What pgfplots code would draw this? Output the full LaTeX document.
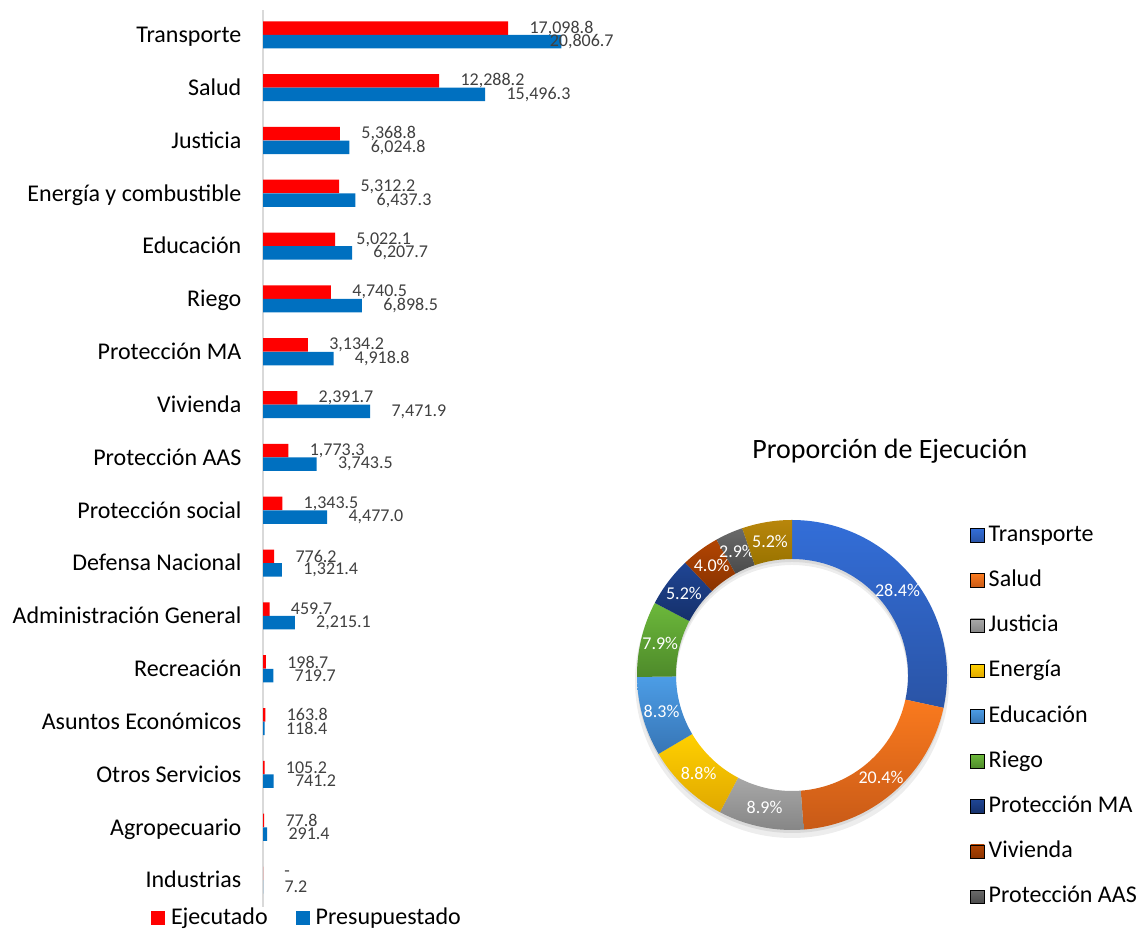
\documentclass[border=0pt]{standalone}
\usepackage{fontspec}
\setmainfont{Carlito}
\usepackage{pgfplots}
\usepackage{pgfplotstable}
\pgfplotsset{compat=1.18}

\definecolor{ejec}{HTML}{FF0000}
\definecolor{pres}{HTML}{0070C0}
\definecolor{axgray}{HTML}{D9D9D9}
\definecolor{labgray}{HTML}{404040}
% donut slices: top / bottom of the gradient
\definecolor{pt0}{HTML}{336ED8}\definecolor{pb0}{HTML}{2A54A6}
\definecolor{pt1}{HTML}{FA7A1E}\definecolor{pb1}{HTML}{C85A17}
\definecolor{pt2}{HTML}{A8A8A8}\definecolor{pb2}{HTML}{858585}
\definecolor{pt3}{HTML}{FFD000}\definecolor{pb3}{HTML}{E0A800}
\definecolor{pt4}{HTML}{4C9DE6}\definecolor{pb4}{HTML}{3775B5}
\definecolor{pt5}{HTML}{6CB83B}\definecolor{pb5}{HTML}{4E8A2A}
\definecolor{pt6}{HTML}{1F4594}\definecolor{pb6}{HTML}{15306A}
\definecolor{pt7}{HTML}{B24503}\definecolor{pb7}{HTML}{8A3300}
\definecolor{pt8}{HTML}{6A6A6A}\definecolor{pb8}{HTML}{4A4A4A}
\definecolor{pt9}{HTML}{B8860B}\definecolor{pb9}{HTML}{997300}

\newcommand\catfont{\fontsize{12pt}{14pt}\selectfont}
\newcommand\valfont{\fontsize{9pt}{10pt}\selectfont}
\newcommand\titlefont{\fontsize{14pt}{16pt}\selectfont}

\def\zerostr{0}
\newcommand\barlab[1]{\edef\tmpv{#1}\ifx\tmpv\zerostr -\else\pgfmathprintnumber[fixed,fixed zerofill,precision=1,1000 sep={,},assume math mode=true]{\tmpv}\fi}

% millions, by sector
\pgfplotstableread{
y cat ejec pres dx
0 Industrias 0 7.2 0
1 Agropecuario 77.8 291.4 0
2 {Otros Servicios} 105.2 741.2 0
3 {Asuntos Económicos} 163.8 118.4 0
4 Recreación 198.7 719.7 0
5 {Administración General} 459.7 2215.1 0
6 {Defensa Nacional} 776.2 1321.4 0
7 {Protección social} 1343.5 4477.0 0
8 {Protección AAS} 1773.3 3743.5 0
9 Vivienda 2391.7 7471.9 0
10 {Protección MA} 3134.2 4918.8 0
11 Riego 4740.5 6898.5 0
12 Educación 5022.1 6207.7 0
13 {Energía y combustible} 5312.2 6437.3 0
14 Justicia 5368.8 6024.8 0
15 Salud 12288.2 15496.3 0
16 Transporte 17098.8 20806.7 -16.5
}\bardata

% share of execution (%)
\pgfplotstableread{
cat pct
Transporte 28.4
Salud 20.4
Justicia 8.9
Energía 8.8
Educación 8.3
Riego 7.9
{Protección MA} 5.2
Vivienda 4.0
{Protección AAS} 2.9
Otros 5.2
}\pietable

\def\Ro{77.5pt}
\def\Ri{58pt}
\def\Rm{67.75pt}

\begin{document}
\begin{tikzpicture}
\path (0,0) rectangle (571.5pt,464.5pt);

\begin{axis}[
  at={(131.5pt,11pt)}, anchor=south west,
  width=190pt, height=448.5pt, scale only axis,
  xbar, bar width=6.75pt,
  xmin=0, xmax=26500, ymin=-0.51, ymax=16.47,
  axis x line=none, axis y line=left,
  y axis line style={-, draw=axgray, line width=1pt},
  ytick={0,...,16}, yticklabels from table={\bardata}{cat},
  ytick style={draw=none},
  yticklabel style={font=\catfont, text=black, anchor=base east, inner sep=0pt, xshift=-8.5pt, yshift=-3.9pt},
  clip=false,
  every node near coord/.append style={font=\valfont, text=labgray, anchor=west, inner sep=0pt, xshift=10.5pt},
  legend columns=2,
  legend style={draw=none, fill=none, font=\catfont, inner sep=0pt,
    at={(axis description cs:0.113,-0.012)}, anchor=center,
    nodes={inner sep=0pt},
    /tikz/every odd column/.append style={column sep=3pt},
    /tikz/every even column/.append style={column sep=14pt}},
]
\addplot[fill=ejec, draw=none, bar shift=3.4pt,
  legend image code/.code={\fill[ejec] (0pt,-3.5pt) rectangle (7pt,3.5pt);},
  point meta=explicit symbolic, nodes near coords={\barlab{\pgfplotspointmeta}}]
  table[x=ejec, y=y, meta=ejec]{\bardata};
\addlegendentry{Ejecutado}
\addplot[fill=pres, draw=none, bar shift=-3.4pt,
  legend image code/.code={\fill[pres] (0pt,-3.5pt) rectangle (7pt,3.5pt);},
  point meta=explicit symbolic, nodes near coords={\barlab{\pgfplotspointmeta}},
  visualization depends on={\thisrow{dx} \as \dx},
  every node near coord/.append style={xshift=\dx pt}]
  table[x=pres, y=y, meta=pres]{\bardata};
\addlegendentry{Presupuestado}
\end{axis}

\begin{axis}[
  at={(396pt,127pt)}, anchor=center,
  width=160pt, height=160pt, scale only axis,
  xmin=-1, xmax=1, ymin=-1, ymax=1,
  hide axis, clip=false,
  title={Proporción de Ejecución},
  title style={font=\titlefont, at={(axis description cs:0.806,1.1625)}, anchor=center},
  legend cell align=left,
  legend style={draw=none, fill=none, font=\catfont, inner sep=0pt,
    at={(axis description cs:1.056,0.975)}, anchor=north west,
    nodes={inner sep=0pt, text height=9pt, text depth=3pt},
    row sep=10.6pt,
    /tikz/every odd column/.append style={column sep=2pt}},
  legend image code/.code={\shade[#1] (0pt,-3.4pt) rectangle (6.8pt,3.4pt);},
]
\fill[black, opacity=0.07, even odd rule, shift={(axis cs:0,0)}, yshift=-3pt]
  (0pt,0pt) circle[radius=78.5pt] (0pt,0pt) circle[radius=\Ri];
\fill[black, opacity=0.08, even odd rule, shift={(axis cs:0,0)}, yshift=-1.5pt]
  (0pt,0pt) circle[radius=77.5pt] (0pt,0pt) circle[radius=\Ri];
\def\cum{0}
\pgfplotsforeachungrouped \i in {0,...,9}{%
  \pgfplotstablegetelem{\i}{pct}\of\pietable \let\p\pgfplotsretval
  \pgfmathsetmacro\a{90-3.6*\cum}%
  \pgfmathsetmacro\cum{\cum+\p}%
  \pgfmathsetmacro\b{90-3.6*\cum}%
  \pgfmathsetmacro\m{(\a+\b)/2}%
  \edef\temp{%
    \noexpand\shade[top color=pt\i, bottom color=pb\i, shift={(axis cs:0,0)}]
      (\a:\Ro) arc[start angle=\a, end angle=\b, radius=\Ro]
      -- (\b:\Ri) arc[start angle=\b, end angle=\a, radius=\Ri] -- cycle;
    \noexpand\node[font=\noexpand\valfont, text=white, inner sep=0pt, shift={(axis cs:0,0)}]
      at (\m:\Rm) {\p\noexpand\%};
  }\temp
}
\addlegendimage{top color=pt0, bottom color=pb0}\addlegendentry{Transporte}
\addlegendimage{top color=pt1, bottom color=pb1}\addlegendentry{Salud}
\addlegendimage{top color=pt2, bottom color=pb2}\addlegendentry{Justicia}
\addlegendimage{top color=pt3, bottom color=pb3}\addlegendentry{Energía}
\addlegendimage{top color=pt4, bottom color=pb4}\addlegendentry{Educación}
\addlegendimage{top color=pt5, bottom color=pb5}\addlegendentry{Riego}
\addlegendimage{top color=pt6, bottom color=pb6}\addlegendentry{Protección MA}
\addlegendimage{top color=pt7, bottom color=pb7}\addlegendentry{Vivienda}
\addlegendimage{top color=pt8, bottom color=pb8}\addlegendentry{Protección AAS}
\end{axis}
\end{tikzpicture}
\end{document}
